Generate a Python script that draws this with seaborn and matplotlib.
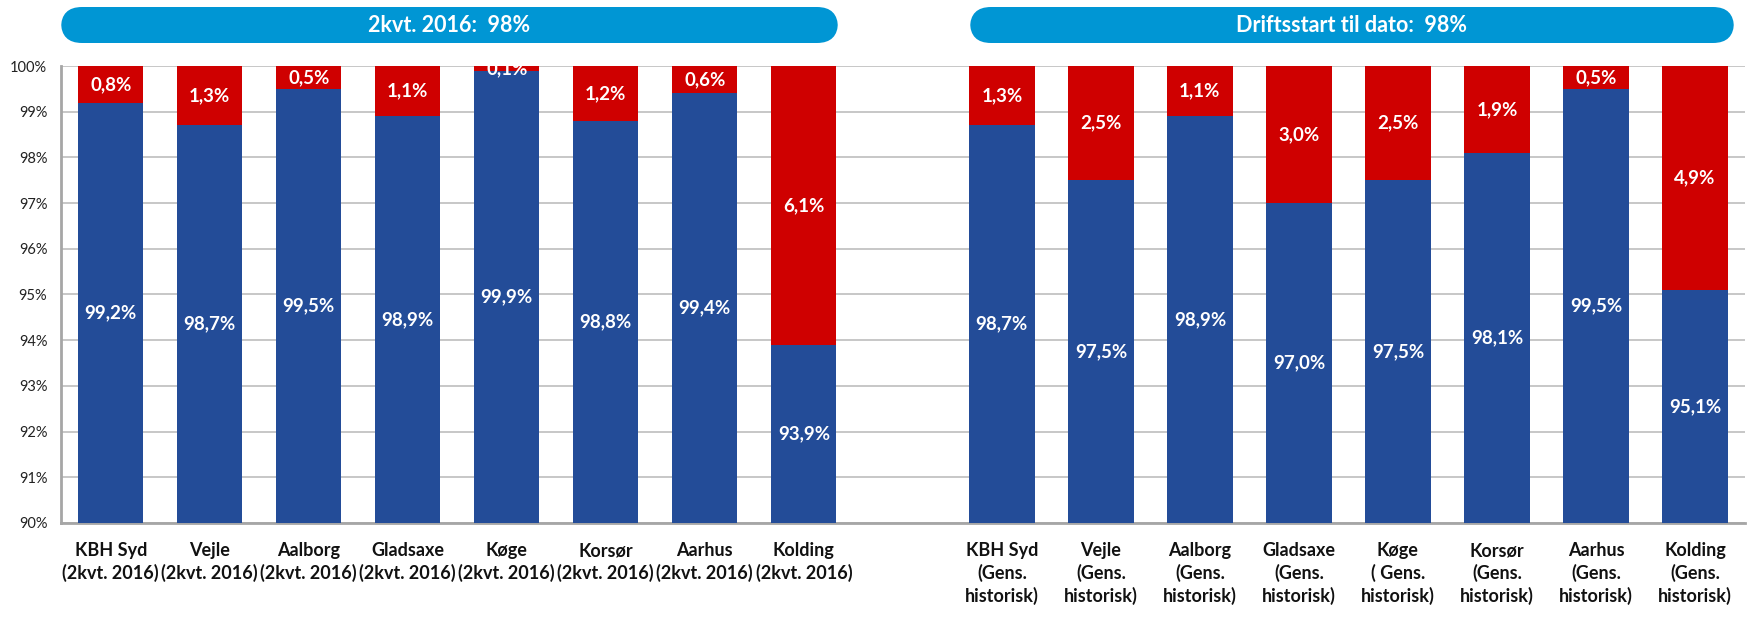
import matplotlib
matplotlib.use('Agg')
import matplotlib.pyplot as plt
import pandas as pd
import numpy as np
import seaborn as sns
from matplotlib.patches import FancyBboxPatch
from matplotlib.ticker import FixedLocator

# data
left_labels = ['KBH Syd\n(2kvt. 2016)', 'Vejle\n(2kvt. 2016)', 'Aalborg\n(2kvt. 2016)',
               'Gladsaxe\n(2kvt. 2016)', 'Køge\n(2kvt. 2016)', 'Korsør\n(2kvt. 2016)',
               'Aarhus\n(2kvt. 2016)', 'Kolding\n(2kvt. 2016)']
right_labels = ['KBH Syd\n(Gens.\nhistorisk)', 'Vejle\n(Gens.\nhistorisk)', 'Aalborg\n(Gens.\nhistorisk)',
                'Gladsaxe\n(Gens.\nhistorisk)', 'Køge\n( Gens.\nhistorisk)', 'Korsør\n(Gens.\nhistorisk)',
                'Aarhus\n(Gens.\nhistorisk)', 'Kolding\n(Gens.\nhistorisk)']
left_up = [99.2, 98.7, 99.5, 98.9, 99.9, 98.8, 99.4, 93.9]
left_down = [0.8, 1.3, 0.5, 1.1, 0.1, 1.2, 0.6, 6.1]
right_up = [98.7, 97.5, 98.9, 97.0, 97.5, 98.1, 99.5, 95.1]
right_down = [1.3, 2.5, 1.1, 3.0, 2.5, 1.9, 0.5, 4.9]
left_title = '2kvt. 2016:  98%'
right_title = 'Driftsstart til dato:  98%'

gap = ' '
order = left_labels + [gap] + right_labels
df = pd.DataFrame({
    'cat': left_labels + right_labels,
    'up': left_up + right_up,
    'down': left_down + right_down,
})
df['total'] = df['up'] + df['down']

sns.set_style('white')
plt.rcParams['font.family'] = ['Lato', 'DejaVu Sans']

fig = plt.figure(figsize=(17.48, 6.2), dpi=100)
ax = fig.add_axes([0.035, 0.1565, 0.963, 0.737])

blue = '#234C98'
red = '#CF0000'
sns.barplot(data=df, x='cat', y='total', order=order, color=red, width=0.66,
            saturation=1, linewidth=0, ax=ax, zorder=2)
sns.barplot(data=df, x='cat', y='up', order=order, color=blue, width=0.66,
            saturation=1, linewidth=0, ax=ax, zorder=3)

ax.set_ylim(90, 100)
ax.set_xlim(-0.5, len(order) - 0.5)
ax.set_yticks(range(90, 101))
ax.set_yticklabels([f'{v}%' for v in range(90, 101)], fontsize=10.5, color='#222222')
ax.yaxis.grid(True, color='#BDBDBD', linewidth=1.2, zorder=0)
ax.set_axisbelow(True)
ax.set_xlabel('')
ax.set_ylabel('')
ax.tick_params(axis='x', length=0, labelsize=13, pad=14)
for t in ax.get_xticklabels():
    t.set_fontweight('bold')
    t.set_verticalalignment('top')
    t.set_linespacing(1.3)
    t.set_color('#111111')
ax.xaxis.set_minor_locator(FixedLocator(np.arange(-0.5, len(order) - 0.5, 1.0)))
ax.tick_params(axis='x', which='minor', length=6, width=2, color='#A6A6A6', direction='out')
ax.tick_params(axis='y', length=6, width=2, color='#A6A6A6', direction='out', pad=4)
for s in ['top', 'right']:
    ax.spines[s].set_visible(False)
for s in ['left', 'bottom']:
    ax.spines[s].set_color('#A6A6A6')
    ax.spines[s].set_linewidth(2)

# value labels
for _, row in df.iterrows():
    xpos = order.index(row['cat'])
    ax.text(xpos, (90 + row['up']) / 2, f"{row['up']:.1f}%".replace('.', ','),
            ha='center', va='center', color='white', fontsize=13.5, fontweight='bold',
            zorder=5, clip_on=True)
    ax.text(xpos, row['up'] + row['down'] / 2, f"{row['down']:.1f}%".replace('.', ','),
            ha='center', va='center', color='white', fontsize=13.5, fontweight='bold',
            zorder=5, clip_on=True)

# header banners
W, H = 1748, 620
for x0, x1, title in [(61, 838, left_title), (970, 1734, right_title)]:
    box = FancyBboxPatch((x0 / W, 1 - 43 / H), (x1 - x0) / W, 36 / H,
                         boxstyle='round,pad=0,rounding_size=0.012',
                         transform=fig.transFigure, facecolor='#0096D4',
                         edgecolor='none', mutation_aspect=W / H)
    fig.patches.append(box)
    fig.text((x0 + x1) / 2 / W, 1 - 25 / H, title, ha='center', va='center',
             color='white', fontsize=15.5, fontweight='bold')

fig.savefig('out.png', dpi=100)
